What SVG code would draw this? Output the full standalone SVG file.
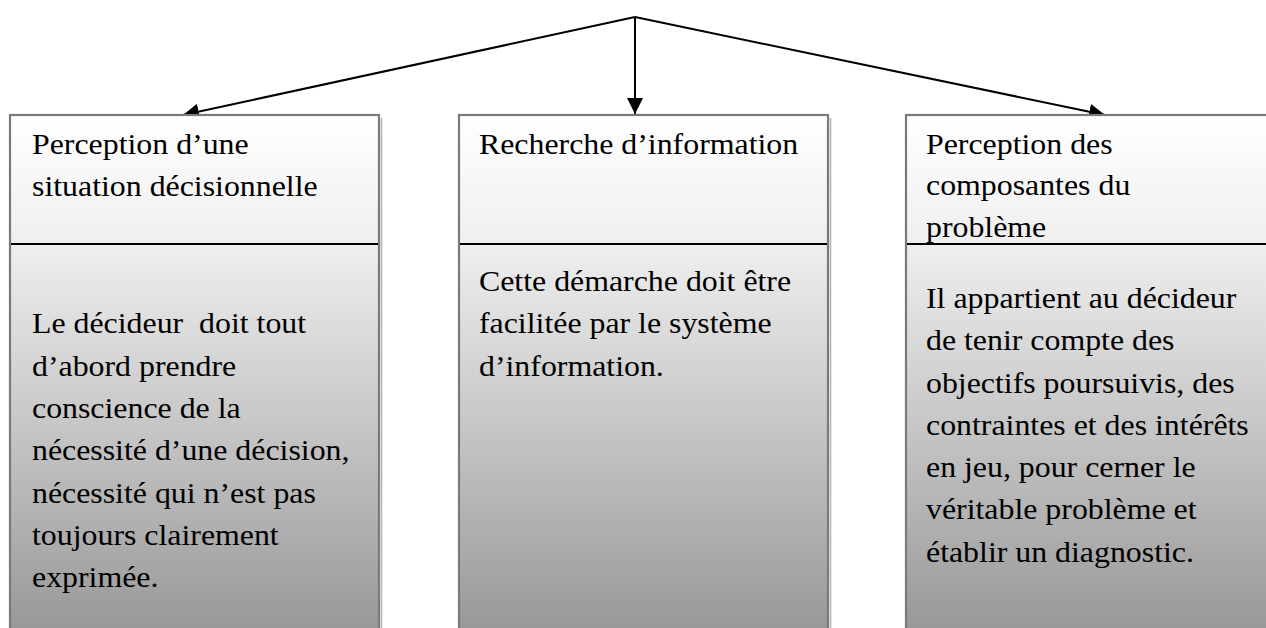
<svg xmlns="http://www.w3.org/2000/svg" width="1266" height="628" viewBox="0 0 1266 628">
  <defs>
    <linearGradient id="boxGrad" x1="0" y1="0" x2="0" y2="1">
      <stop offset="0" stop-color="#ffffff"/>
      <stop offset="0.253" stop-color="#eeeeee"/>
      <stop offset="1" stop-color="#959595"/>
    </linearGradient>
    <marker id="arrow" markerUnits="userSpaceOnUse" markerWidth="16" markerHeight="16" viewBox="0 0 16 16" refX="16" refY="8" orient="auto">
      <path d="M0,0 L16,8 L0,16 Z" fill="#000"/>
    </marker>
  </defs>
  <style>
    .box { fill: url(#boxGrad); stroke: #7a7a7a; stroke-width: 2.2; }
    .shadow { stroke: #b4b4b4; stroke-width: 1.6; fill: none; }
    .sep { stroke: #000; stroke-width: 2; }
    .conn { stroke: #000; stroke-width: 2; fill: none; }
    text { font-family: "Liberation Serif", "Times New Roman", serif; font-size: 29.5px; fill: #000; white-space: pre; }
  </style>
  <rect width="1266" height="628" fill="#ffffff"/>

  <g id="connectors">
    <line class="conn" x1="635" y1="17" x2="183" y2="115" marker-end="url(#arrow)"/>
    <line class="conn" x1="635" y1="17" x2="635" y2="114" marker-end="url(#arrow)"/>
    <line class="conn" x1="635" y1="17" x2="1105" y2="115" marker-end="url(#arrow)"/>
  </g>

  <g id="node-perception-situation">
    <line class="shadow" x1="381.5" y1="118" x2="381.5" y2="628"/>
    <rect class="box" x="10" y="115" width="369" height="530"/>
    <line class="sep" x1="11" y1="244" x2="378" y2="244"/>
    <text transform="translate(32 0) scale(1.08 1)">
      <tspan x="0" y="154">Perception d’une</tspan>
      <tspan x="0" y="196.5">situation décisionnelle</tspan>
    </text>
    <text transform="translate(32 0) scale(1.08 1)">
      <tspan x="0" y="333.5">Le décideur  doit tout</tspan>
      <tspan x="0" y="375.8">d’abord prendre</tspan>
      <tspan x="0" y="418.1">conscience de la</tspan>
      <tspan x="0" y="460.4">nécessité d’une décision,</tspan>
      <tspan x="0" y="502.7">nécessité qui n’est pas</tspan>
      <tspan x="0" y="545">toujours clairement</tspan>
      <tspan x="0" y="587.3">exprimée.</tspan>
    </text>
  </g>

  <g id="node-recherche-information">
    <line class="shadow" x1="830.5" y1="118" x2="830.5" y2="628"/>
    <rect class="box" x="459" y="115" width="369" height="530"/>
    <line class="sep" x1="460" y1="244" x2="827" y2="244"/>
    <text transform="translate(479 0) scale(1.08 1)">
      <tspan x="0" y="154">Recherche d’information</tspan>
    </text>
    <text transform="translate(479 0) scale(1.08 1)">
      <tspan x="0" y="291">Cette démarche doit être</tspan>
      <tspan x="0" y="333.3">facilitée par le système</tspan>
      <tspan x="0" y="375.6">d’information.</tspan>
    </text>
  </g>

  <g id="node-perception-composantes">
    <rect class="box" x="906" y="115" width="369" height="530"/>
    <line class="sep" x1="907" y1="244" x2="1274" y2="244"/>
    <text transform="translate(926 0) scale(1.08 1)">
      <tspan x="0" y="154">Perception des</tspan>
      <tspan x="0" y="195.5">composantes du</tspan>
      <tspan x="0" y="237.5">problème</tspan>
    </text>
    <text transform="translate(926 0) scale(1.08 1)">
      <tspan x="0" y="308">Il appartient au décideur</tspan>
      <tspan x="0" y="350.3">de tenir compte des</tspan>
      <tspan x="0" y="392.6">objectifs poursuivis, des</tspan>
      <tspan x="0" y="434.9">contraintes et des intérêts</tspan>
      <tspan x="0" y="477.2">en jeu, pour cerner le</tspan>
      <tspan x="0" y="519.5">véritable problème et</tspan>
      <tspan x="0" y="561.8">établir un diagnostic.</tspan>
    </text>
  </g>
</svg>
